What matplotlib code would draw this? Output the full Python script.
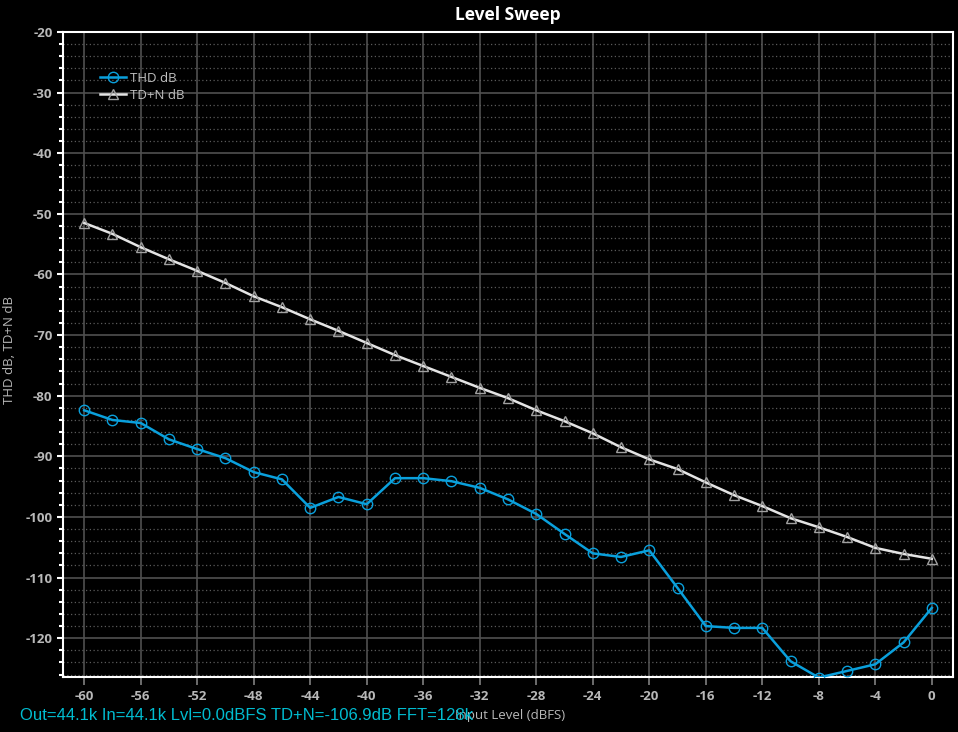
import matplotlib
matplotlib.use('Agg')
import matplotlib.pyplot as plt
import numpy as np
from matplotlib.ticker import MultipleLocator

# input level (dBFS), one point every 2 dB
level = [-60, -58, -56, -54, -52, -50, -48, -46, -44, -42, -40, -38, -36, -34, -32, -30,
         -28, -26, -24, -22, -20, -18, -16, -14, -12, -10, -8, -6, -4, -2, 0]

thd = [-82.4, -84.0, -84.5, -87.2, -88.8, -90.3, -92.6, -93.8, -98.5, -96.7, -97.9, -93.6,
       -93.6, -94.1, -95.2, -97.1, -99.5, -102.8, -106.0, -106.6, -105.5, -111.7, -118.0,
       -118.3, -118.3, -123.8, -126.5, -125.4, -124.3, -120.7, -115.0]

tdn = [-51.5, -53.3, -55.5, -57.5, -59.4, -61.4, -63.6, -65.4, -67.4, -69.3, -71.3, -73.3,
       -75.1, -76.9, -78.7, -80.4, -82.4, -84.2, -86.2, -88.5, -90.5, -92.1, -94.3, -96.4,
       -98.2, -100.2, -101.7, -103.3, -105.1, -106.1, -106.9]

xticks = np.arange(-60, 1, 4)
yticks = np.arange(-120, -19, 10)

plt.rcParams['font.family'] = ['Open Sans', 'DejaVu Sans']
plt.rcParams['axes.unicode_minus'] = False

fig = plt.figure(figsize=(9.58, 7.32), dpi=100, facecolor='black')
ax = fig.add_axes([63/958, 1 - 677/732, (953-63)/958, (677-32)/732])
ax.set_facecolor('black')

ax.plot(level, thd, color='#0aa0dc', lw=1.8, marker='o', ms=7.5, mfc='none',
        mec='#0aa0dc', mew=1.0, label='THD dB', zorder=3)
ax.plot(level, tdn, color='#e4e4e4', lw=1.8, marker='^', ms=7, mfc='none',
        mec='#a0a0a0', mew=1.0, label='TD+N dB', zorder=3)

ax.set_xlim(-61.5, 1.5)
ax.set_ylim(-126.4, -20)
ax.set_xticks(xticks)
ax.set_yticks(yticks)
ax.yaxis.set_minor_locator(MultipleLocator(2))

ax.grid(which='major', color='#505050', lw=1.2, ls='-')
ax.grid(which='minor', axis='y', color='#5a5a5a', lw=0.9, ls=(0, (1, 2)))
ax.set_axisbelow(True)

for s in ax.spines.values():
    s.set_color('white')
    s.set_linewidth(1.5)

ax.tick_params(which='major', axis='y', colors='white', length=4.5, width=1.5,
               labelcolor='#b8b8b8', labelsize=9.5, pad=3)
ax.tick_params(which='minor', axis='y', colors='white', length=3, width=1.5)
ax.tick_params(which='major', axis='x', colors='#808080', length=6, width=1.2,
               labelcolor='#b8b8b8', labelsize=9.5, pad=3)
for lab in ax.get_xticklabels() + ax.get_yticklabels():
    lab.set_fontweight('bold')

fig.text(508/958, 1 - 15/732, 'Level Sweep', color='white', fontsize=12.5,
         fontweight='bold', ha='center', va='center')
fig.text(10/958, 1 - 350/732, 'THD dB, TD+N dB', color='#b8b8b8', fontsize=9.5,
         rotation=90, ha='center', va='center')
fig.text(510/958, 1 - 716/732, 'Input Level (dBFS)', color='#b8b8b8', fontsize=9.5,
         ha='center', va='center')
fig.text(20/958, 1 - 715/732, 'Out=44.1k In=44.1k Lvl=0.0dBFS TD+N=-106.9dB FFT=128k',
         color='#00bcd0', fontsize=12, family=['Liberation Sans', 'DejaVu Sans'],
         ha='left', va='center')

leg = ax.legend(loc='upper left', bbox_to_anchor=(37/890, 1 - 40/645), frameon=False,
                fontsize=9.5, handlelength=2.0, labelspacing=0.3, borderaxespad=0,
                borderpad=0, handletextpad=0.3)
for t in leg.get_texts():
    t.set_color('#c0c0c0')

fig.savefig('out.png', dpi=100, facecolor='black')
